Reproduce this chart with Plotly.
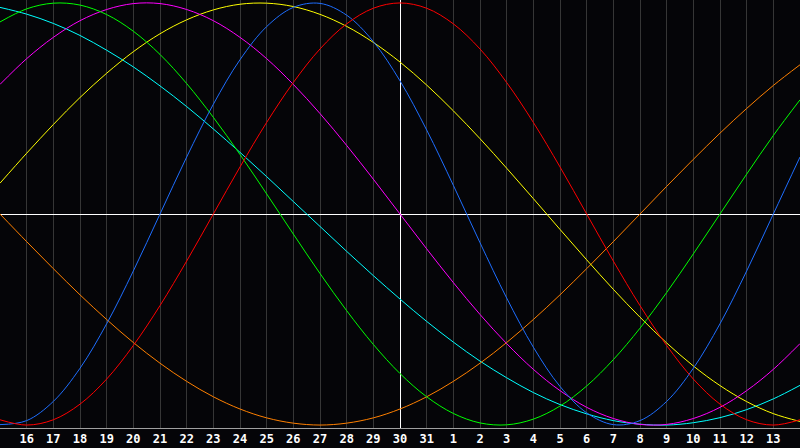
import plotly.graph_objects as go

# jours affichés : décalage par rapport au jour courant (30)
days = list(range(-15, 16))
tick_days = list(range(-14, 15))
tick_labels = ['16', '17', '18', '19', '20', '21', '22', '23', '24', '25', '26', '27', '28', '29',
               '30', '31', '1', '2', '3', '4', '5', '6', '7', '8', '9', '10', '11', '12', '13']

# valeurs (en %)
physique = [-99.8, -97.9, -88.8, -73.1, -52.0, -27.0, 0, 27.0, 52.0, 73.1, 88.8, 97.9, 99.8,
            94.2, 81.7, 63.1, 39.8, 13.6, -13.6, -39.8, -63.1, -81.7, -94.2, -99.8,
            -97.9, -88.8, -73.1, -52.0, -27.0, 0, 27.0]
emotionnel = [-97.5, -100, -97.5, -90.1, -78.2, -62.3, -43.4, -22.3, 0, 22.3, 43.4, 62.3, 78.2,
              90.1, 97.5, 100, 97.5, 90.1, 78.2, 62.3, 43.4, 22.3, 0, -22.3, -43.4, -62.3,
              -78.2, -90.1, -97.5, -100, -97.5]
intellectuel = [91.0, 97.2, 99.9, 99.0, 94.5, 86.6, 75.6, 61.8, 45.8, 28.2, 9.5, -9.5, -28.2,
                -45.8, -61.8, -75.6, -86.6, -94.5, -99.0, -99.9, -97.2, -91.0, -81.5, -69.0,
                -54.1, -37.2, -18.9, 0, 18.9, 37.2, 54.1]
intuitif = [61.4, 73.6, 83.7, 91.6, 96.9, 99.7, 99.7, 96.9, 91.6, 83.7, 73.6, 61.4, 47.6, 32.5,
            16.5, 0, -16.5, -32.5, -47.6, -61.4, -73.6, -83.7, -91.6, -96.9, -99.7, -99.7,
            -96.9, -91.6, -83.7, -73.6, -61.4]
esthetique = [14.6, 28.8, 42.4, 55.2, 66.7, 76.9, 85.4, 92.0, 96.7, 99.4, 99.9, 98.3, 94.6,
              88.9, 81.3, 72.0, 61.1, 48.9, 35.7, 21.7, 7.3, -7.3, -21.7, -35.7, -48.9, -61.1,
              -72.0, -81.3, -88.9, -94.6, -98.3]
conscience = [0, -13.1, -25.9, -38.3, -50.0, -60.9, -70.7, -79.3, -86.6, -92.4, -96.6, -99.1,
              -100, -99.1, -96.6, -92.4, -86.6, -79.3, -70.7, -60.9, -50.0, -38.3, -25.9,
              -13.1, 0, 13.1, 25.9, 38.3, 50.0, 60.9, 70.7]
spirituel = [97.9, 94.7, 90.3, 84.6, 77.6, 69.7, 60.7, 50.9, 40.3, 29.2, 17.7, 5.9, -5.9, -17.7,
             -29.2, -40.3, -50.9, -60.7, -69.7, -77.6, -84.6, -90.3, -94.7, -97.9, -99.6,
             -100.0, -98.9, -96.5, -92.7, -87.6, -81.2]

series = [
    ('Spirituel', spirituel, '#00ffff'),
    ('Conscience', conscience, '#ff8000'),
    ('Esthétique', esthetique, '#ffff00'),
    ('Intuitif', intuitif, '#ff00ff'),
    ('Intellectuel', intellectuel, '#00ff00'),
    ('Physique', physique, '#1e6eff'),
    ('Emotionnel', emotionnel, '#ff0000'),
]

fig = go.Figure()
for nom, valeurs, couleur in series:
    fig.add_trace(go.Scatter(x=days, y=valeurs, name=nom, mode='lines',
                             line=dict(color=couleur, width=1, shape='spline', simplify=False)))

fig.update_layout(
    width=800, height=448,
    margin=dict(l=0, r=0, t=0, b=20),
    paper_bgcolor='#050508', plot_bgcolor='#050508',
    showlegend=False,
    xaxis=dict(range=[-15, 15], tickvals=tick_days, ticktext=tick_labels,
               showgrid=True, gridcolor='#363636', gridwidth=1,
               zeroline=True, zerolinecolor='#ffffff', zerolinewidth=1,
               showline=True, linecolor='#a0a0a0', mirror=True,
               tickfont=dict(family='DejaVu Sans Mono', size=12, color='white', weight='bold'),
               ticks='', fixedrange=True),
    yaxis=dict(range=[-101.4, 101.4], showgrid=False, showticklabels=False,
               zeroline=True, zerolinecolor='#ffffff', zerolinewidth=1,
               showline=True, linecolor='#a0a0a0', mirror=True, fixedrange=True),
)

# pas de marge autour du graphique dans la page
fig.write_html("out.html", config={'displayModeBar': False},
               post_script="document.body.style.margin='0';document.body.style.background='#050508';")
